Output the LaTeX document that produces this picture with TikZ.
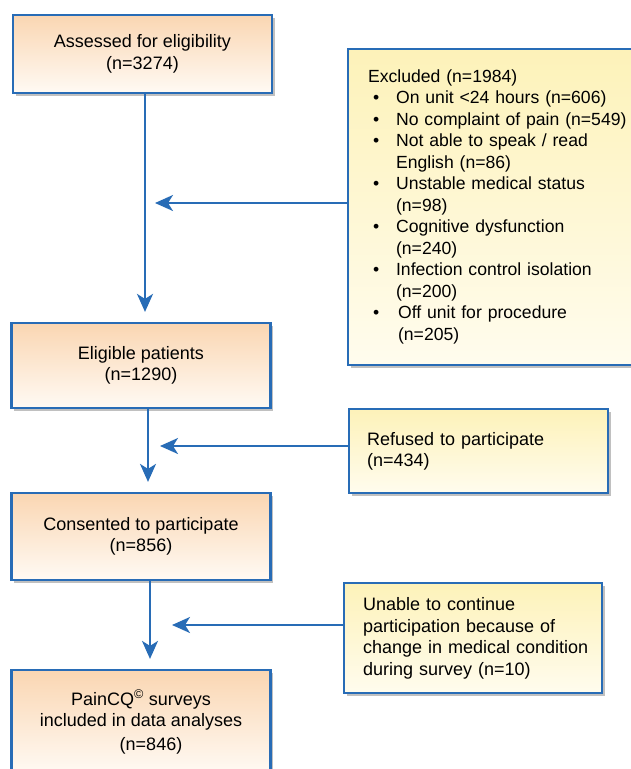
\documentclass[tikz,border=0pt]{standalone}
\usepackage{fontspec}
\setmainfont{Liberation Sans}
\usetikzlibrary{arrows.meta,shadows}
\definecolor{bblue}{RGB}{40,108,182}
\definecolor{peach}{RGB}{250,214,178}
\definecolor{peachlight}{RGB}{255,250,244}
\definecolor{ylw}{RGB}{253,242,185}
\definecolor{ylwlight}{RGB}{255,252,238}
\tikzset{
  txt/.style={font=\fontsize{18}{21.5}\selectfont},
  shad/.style={drop shadow={shadow xshift=2.5pt,shadow yshift=-2.5pt,opacity=0.35,fill=black!70}},
  mainbox/.style={txt, shad, draw=bblue, line width=2.2pt, top color=peach, bottom color=peachlight,
    minimum width=259pt, align=center},
  sidebox/.style={txt, shad, draw=bblue, line width=2.2pt, top color=ylw, bottom color=ylwlight,
    align=left, anchor=north west},
  arr/.style={draw=bblue, line width=2pt, -{Stealth[length=18pt,width=16pt,inset=5pt]}},
}
\begin{document}
\begin{tikzpicture}[x=1pt,y=-1pt]
\useasboundingbox (0,0) rectangle (631,769);
\fill[white] (0,0) rectangle (631,769);
\clip (0,0) rectangle (631,769);

\node[mainbox, minimum height=78pt] (b1) at (142.5,54) {Assessed for eligibility\\(n=3274)};
\node[mainbox, minimum height=85pt] (b2) at (141,365.5) {Eligible patients\\(n=1290)};
\node[mainbox, minimum height=87pt] (b3) at (141,536.5) {Consented to participate\\(n=856)};
\node[mainbox, minimum height=104pt] (b4) at (141,722) {PainCQ\textsuperscript{\textcopyright} surveys\\included in data analyses\\[2pt]\hspace*{20pt}(n=846)};

\node[sidebox, minimum height=316pt, inner xsep=20pt, text width=290pt,
      font=\fontsize{17.6}{21.5}\selectfont] (ex) at (347,48) {%
\begin{tabular}{@{\hspace{5pt}}p{23pt}@{}l@{}}
\multicolumn{2}{@{}l}{Excluded (n=1984)}\\
\textbullet & On unit <24 hours (n=606)\\
\textbullet & No complaint of pain (n=549)\\
\textbullet & Not able to speak / read\\
 & English (n=86)\\
\textbullet & Unstable medical status\\
 & (n=98)\\
\textbullet & Cognitive dysfunction\\
 & (n=240)\\
\textbullet & Infection control isolation\\
 & (n=200)\\
\textbullet & \hspace{2pt}Off unit for procedure\\
 & \hspace{2pt}(n=205)
\end{tabular}};

\node[sidebox, minimum height=84pt, inner xsep=18pt, text width=223pt] (rf) at (348,408) {Refused to participate\\(n=434)};
\node[sidebox, minimum height=110pt, inner xsep=19pt, text width=220pt] (un) at (343,582) {\mbox{Unable to continue}\\\mbox{participation because of}\\\mbox{change in medical condition}\\\mbox{during survey (n=10)}};

\draw[arr, shorten >=10pt] ([xshift=2.5pt]b1.south) -- ([xshift=2.5pt]b1.south |- b2.north);
\draw[arr, shorten >=10pt] ([xshift=7pt]b2.south) -- ([xshift=7pt]b2.south |- b3.north);
\draw[arr, shorten >=10pt] ([xshift=9pt]b3.south) -- ([xshift=9pt]b3.south |- b4.north);

\coordinate (h1) at (155,203);
\coordinate (h2) at (160,446);
\coordinate (h3) at (172,625);
\draw[arr] (ex.west |- h1) -- (h1);
\draw[arr] (rf.west |- h2) -- (h2);
\draw[arr] (un.west |- h3) -- (h3);
\end{tikzpicture}
\end{document}
